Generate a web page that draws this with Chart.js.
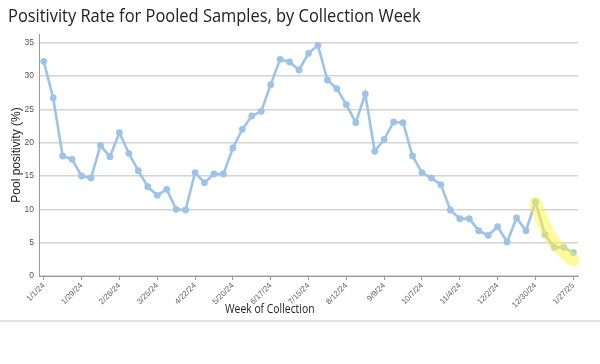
<!DOCTYPE html>
<html>
<head>
<meta charset="utf-8">
<script src="https://cdn.jsdelivr.net/npm/chart.js@4"></script>
<style>
  html, body { margin: 0; padding: 0; background: #fff; }
  #wrap { width: 600px; height: 320px; position: relative; }
  #rule { width: 600px; height: 2px; background: #dde5ec; }
  .txt { position: absolute; font-family: "Open Sans", sans-serif; color: #222;
         white-space: nowrap; transform-origin: 0 0; }
  #title { left: 8px; top: 2px; font-size: 19px; line-height: 26px; transform: scaleX(0.865); }
  #xtitle { left: 225px; top: 301px; font-size: 12.5px; line-height: 16px; transform: scaleX(0.83); }
</style>
</head>
<body>
<div id="wrap">
  <canvas id="poolChart"></canvas>
  <div class="txt" id="title">Positivity Rate for Pooled Samples, by Collection Week</div>
  <div class="txt" id="xtitle">Week of Collection</div>
</div>
<div id="rule"></div>
<script>
// weekly collection dates
let weeks = ["1/1/24", "1/8/24", "1/15/24", "1/22/24", "1/29/24", "2/5/24", "2/12/24", "2/19/24",
    "2/26/24", "3/4/24", "3/11/24", "3/18/24", "3/25/24", "4/1/24", "4/8/24", "4/15/24",
    "4/22/24", "4/29/24", "5/6/24", "5/13/24", "5/20/24", "5/27/24", "6/3/24", "6/10/24",
    "6/17/24", "6/24/24", "7/1/24", "7/8/24", "7/15/24", "7/22/24", "7/29/24", "8/5/24",
    "8/12/24", "8/19/24", "8/26/24", "9/2/24", "9/9/24", "9/16/24", "9/23/24", "9/30/24",
    "10/7/24", "10/14/24", "10/21/24", "10/28/24", "11/4/24", "11/11/24", "11/18/24", "11/25/24",
    "12/2/24", "12/9/24", "12/16/24", "12/23/24", "12/30/24", "1/6/25", "1/13/25", "1/20/25",
    "1/27/25"];

// pool positivity (%)
let positivity = [32.2, 26.7, 18.0, 17.5, 15.0, 14.7, 19.6, 17.9,
    21.5, 18.4, 15.8, 13.4, 12.1, 13.0, 10.0, 9.9,
    15.5, 14.0, 15.3, 15.3, 19.2, 22.0, 24.0, 24.7,
    28.7, 32.5, 32.1, 30.9, 33.4, 34.6, 29.4, 28.1,
    25.7, 23.0, 27.3, 18.7, 20.5, 23.1, 23.0, 18.0,
    15.5, 14.7, 13.7, 9.9, 8.6, 8.6, 6.8, 6.1,
    7.4, 5.1, 8.7, 6.8, 11.1, 6.2, 4.3, 4.3,
    3.5];

// yellow marker stroke over the last five weeks
let highlight = [null, null, null, null, null, null, null, null,
    null, null, null, null, null, null, null, null,
    null, null, null, null, null, null, null, null,
    null, null, null, null, null, null, null, null,
    null, null, null, null, null, null, null, null,
    null, null, null, null, null, null, null, null,
    null, null, null, null, 10.9, 7.4, 5.0, 3.6,
    2.4];

let yTicks = [0, 5, 10, 15, 20, 25, 30, 35];

let blue = "rgb(158, 195, 232)";

let ctx = document.getElementById("poolChart").getContext("2d");

let chart = new Chart(ctx, {
    type: "line",
    data: {
        labels: weeks,
        datasets: [{
            label: "highlight",
            data: highlight,
            borderColor: "rgba(255, 246, 60, 0.5)",
            borderWidth: 13,
            borderCapStyle: "round",
            borderJoinStyle: "round",
            pointRadius: 0,
            tension: 0.4,
            spanGaps: false,
            order: 0
        }, {
            label: "Pool positivity (%)",
            data: positivity,
            borderColor: blue,
            backgroundColor: blue,
            borderWidth: 2.6,
            pointRadius: 3.4,
            pointBorderWidth: 0,
            pointBackgroundColor: blue,
            tension: 0,
            order: 1
        }]
    },
    options: {
        responsive: true,
        maintainAspectRatio: false,
        animation: false,
        layout: { padding: { left: 0, right: 22, top: 34, bottom: 0 } },
        plugins: {
            legend: { display: false },
            tooltip: { enabled: false }
        },
        scales: {
            x: {
                offset: true,
                afterFit: function (scale) { scale.height = 44; },
                border: { color: "#999", width: 1 },
                grid: {
                    drawOnChartArea: false,
                    drawTicks: true,
                    tickLength: 4,
                    color: function (c) { return c.index % 4 === 0 ? "#999" : "rgba(0,0,0,0)"; }
                },
                ticks: {
                    autoSkip: false,
                    maxRotation: 45,
                    minRotation: 45,
                    padding: 1,
                    color: "#666",
                    font: { family: "Liberation Sans", size: 8 },
                    callback: function (v, i) { return i % 4 === 0 ? weeks[i] : ""; }
                }
            },
            y: {
                min: 0,
                max: 36.3,
                afterFit: function (scale) { scale.width = 39; },
                afterBuildTicks: function (scale) {
                    scale.ticks = yTicks.map(function (v) { return { value: v }; });
                },
                border: { color: "#999", width: 1 },
                grid: {
                    drawTicks: false,
                    color: "#d4d4d4",
                    lineWidth: 1.5
                },
                ticks: {
                    padding: 5,
                    color: "#555",
                    font: { family: "Liberation Sans", size: 8.5 }
                },
                title: {
                    display: true,
                    text: "Pool positivity (%)",
                    color: "#222",
                    font: { family: "Liberation Sans", size: 12 },
                    padding: { top: 9, bottom: 0 }
                }
            }
        }
    }
});
</script>
</body>
</html>
